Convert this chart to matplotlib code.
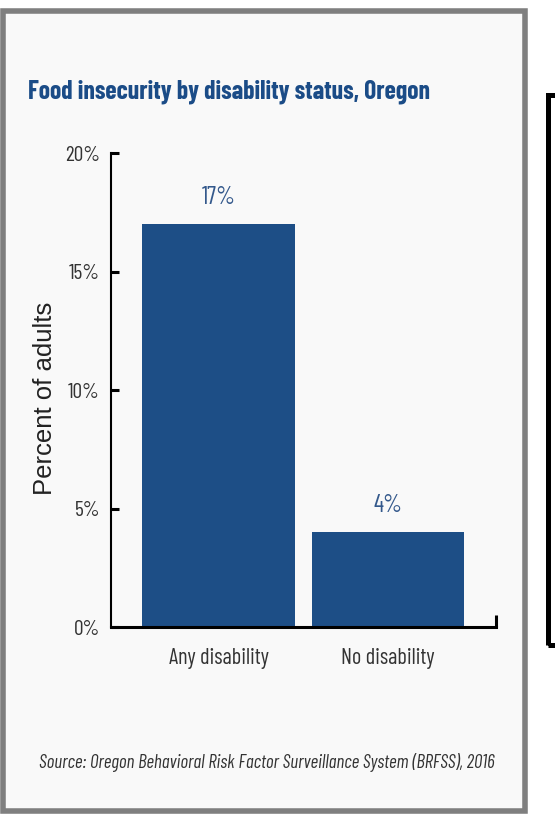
import matplotlib
matplotlib.use("Agg")
import matplotlib.pyplot as plt
from matplotlib.patches import Rectangle

# data
categories = ["Any disability", "No disability"]
values = [17, 4]
value_labels = ["17%", "4%"]
y_ticks = [0, 5, 10, 15, 20]
y_tick_labels = ["0%", "5%", "10%", "15%", "20%"]

title = "Food insecurity by disability status, Oregon"
source = "Source: Oregon Behavioral Risk Factor Surveillance System (BRFSS), 2016"

narrow = ["Barlow Condensed", "Archivo Narrow", "DejaVu Sans"]
bar_color = "#1d4e86"
title_color = "#1b4c87"
label_color = "#34598c"

fig = plt.figure(figsize=(5.55, 8.14), dpi=100)
fig.patch.set_facecolor("white")

# gray frame round the chart
frame = Rectangle((0.0063, 0.0037), 0.9396, 0.9834, transform=fig.transFigure,
                  facecolor="#f9f9f9", edgecolor="#7f7f7f", linewidth=4, zorder=-10)
fig.patches.append(frame)

# black box on the right edge
box = Rectangle((0.9865, 0.2076), 0.1, 0.6763, transform=fig.transFigure,
                facecolor="none", edgecolor="black", linewidth=3.6, zorder=-10)
fig.patches.append(box)

ax = fig.add_axes([0.2, 0.2297, 0.6937, 0.5823])
ax.set_facecolor("none")

x = list(range(len(categories)))
ax.bar(x, values, width=0.9, color=bar_color, zorder=2)

for xi, v, lab in zip(x, values, value_labels):
    ax.annotate(lab, xy=(xi, v), xytext=(0, 11), textcoords="offset points",
                ha="center", va="bottom", fontsize=17.5, color=label_color,
                family=narrow)

ax.set_xlim(-0.634, 1.637)
ax.set_ylim(0, 20)

ax.spines["top"].set_visible(False)
ax.spines["right"].set_visible(False)
ax.spines["left"].set_linewidth(1.5)
ax.spines["bottom"].set_linewidth(2.2)

ax.set_yticks(y_ticks)
ax.set_yticklabels(y_tick_labels, family=narrow, fontsize=15.5, color="#333333")
ax.tick_params(axis="y", direction="in", length=6, width=2.2, pad=8)

ax.set_xticks(x)
ax.set_xticklabels(categories, family=narrow, fontsize=16, color="#333333")
ax.tick_params(axis="x", length=0, pad=15)
# small end tick at right of x axis
ax.set_xticks([1.637], minor=True)
ax.tick_params(axis="x", which="minor", direction="in", length=9, width=2.2)

fig.text(0.081, 0.511, "Percent of adults", rotation=90, ha="center", va="center",
         fontsize=18.5, color="#222222", family=["Liberation Sans", "DejaVu Sans"])

fig.text(0.0505, 0.8796, title, ha="left", va="baseline", fontsize=18.5,
         fontweight="bold", color=title_color, family=narrow)

fig.text(0.0703, 0.0565, source, ha="left", va="baseline", fontsize=13.7,
         style="italic", color="#333333", family=narrow)

fig.savefig("out.png", dpi=100)
